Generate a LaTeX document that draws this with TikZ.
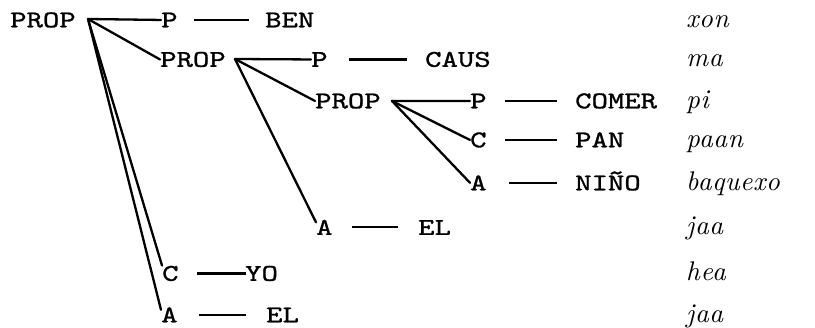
\documentclass[tikz,border=0pt]{standalone}
\usepackage{fontspec}
% typewriter capitals for the category labels: wide pica letters
\newfontfamily\twfamily{lmmono10-regular}[Extension=.otf, FakeStretch=1.3, FakeBold=1.1]
% italic gloss column
\newfontfamily\itfamily{lmroman10-italic}[Extension=.otf, LetterSpace=2]
\newcommand\treefont{\twfamily\fontsize{24}{28}\selectfont}
\newcommand\glossfont{\itfamily\fontsize{27}{31}\selectfont}
\begin{document}
\begin{tikzpicture}[x=1pt,y=-1pt,
  lbl/.style={anchor=base west, inner sep=0pt, font=\treefont},
  gl/.style={anchor=base west, inner sep=0pt, font=\glossfont},
  br/.style={line width=2.3pt, line cap=round},
  dsh/.style={line width=2.3pt}]
\useasboundingbox (0,0) rectangle (815,328);

% category labels (rows by baseline)
\node[lbl] (prop1) at (10,27.3)  {PROP};
\node[lbl] (p1)    at (161,27.3) {P};
\node[lbl] (ben)   at (265,27.3) {BEN};

\node[lbl] (prop2) at (160,66.8) {PROP};
\node[lbl] (p2)    at (311,66.8) {P};
\node[lbl] (caus)  at (425,66.8) {CAUS};

\node[lbl] (prop3) at (315,108.3) {PROP};
\node[lbl] (p3)    at (470,108.3) {P};
\node[lbl] (comer) at (575,108.3) {COMER};

\node[lbl] (c3)    at (470,147.3) {C};
\node[lbl] (pan)   at (575,147.3) {PAN};

\node[lbl] (a3)    at (470,190.3) {A};
\node[lbl] (nino)  at (575,190.3) {NIÑO};

\node[lbl] (a6)    at (316,234.8) {A};
\node[lbl] (el6)   at (418,234.8) {EL};

\node[lbl] (c7)    at (162,280.8) {C};
\node[lbl] (yo)    at (245,280.8) {YO};

\node[lbl] (a8)    at (161,322.3) {A};
\node[lbl] (el8)   at (266,322.3) {EL};

% gloss column
\node[gl] (g1) at (686,27.3)  {xon};
\node[gl] (g2) at (686,66.8)  {ma};
\node[gl] (g3) at (686,108.3) {pi};
\node[gl] (g4) at (686,147.3) {paan};
\node[gl] (g5) at (686,190.3) {baquexo};
\node[gl] (g6) at (686,234.8) {jaa};
\node[gl] (g7) at (686,280.8) {hea};
\node[gl] (g8) at (686,322.3) {jaa};

% branching points
\coordinate (b1) at (88,19);
\coordinate (b2) at (235,59);
\coordinate (b3) at (392,101);

% tree branches
\draw[br] (b1) -- (p1.west);
\draw[br] (b1) -- (prop2.west);
\draw[br] (b1) -- ([yshift=8pt]c7.west);
\draw[br] (b1) -- ([yshift=5pt]a8.west);

\draw[br] (b2) -- (p2.west);
\draw[br] (b2) -- (prop3.west);
\draw[br] (b2) -- ([yshift=5pt]a6.west);

\draw[br] (b3) -- (p3.west);
\draw[br] (b3) -- (c3.west);
\draw[br] (b3) -- (a3.west);

% dashes between category and filler, kept level with the category letter
\draw[dsh] ([xshift=33pt]p1.west)  -- ([xshift=-16pt]ben.west |- p1.west);
\draw[dsh] ([xshift=38pt]p2.west)  -- ([xshift=-18pt]caus.west |- p2.west);
\draw[dsh] ([xshift=35pt]p3.west)  -- ([xshift=-18pt]comer.west |- p3.west);
\draw[dsh] ([xshift=35pt]c3.west)  -- ([xshift=-18pt]pan.west |- c3.west);
\draw[dsh] ([xshift=39pt]a3.west)  -- ([xshift=-18pt]nino.west |- a3.west);
\draw[dsh] ([xshift=36pt]a6.west)  -- ([xshift=-20pt]el6.west |- a6.west);
\draw[dsh] ([xshift=35pt]c7.west)  -- ([xshift=1pt]yo.west |- c7.west);
\draw[dsh] ([xshift=38pt]a8.west)  -- ([xshift=-20pt]el8.west |- a8.west);
\end{tikzpicture}
\end{document}
